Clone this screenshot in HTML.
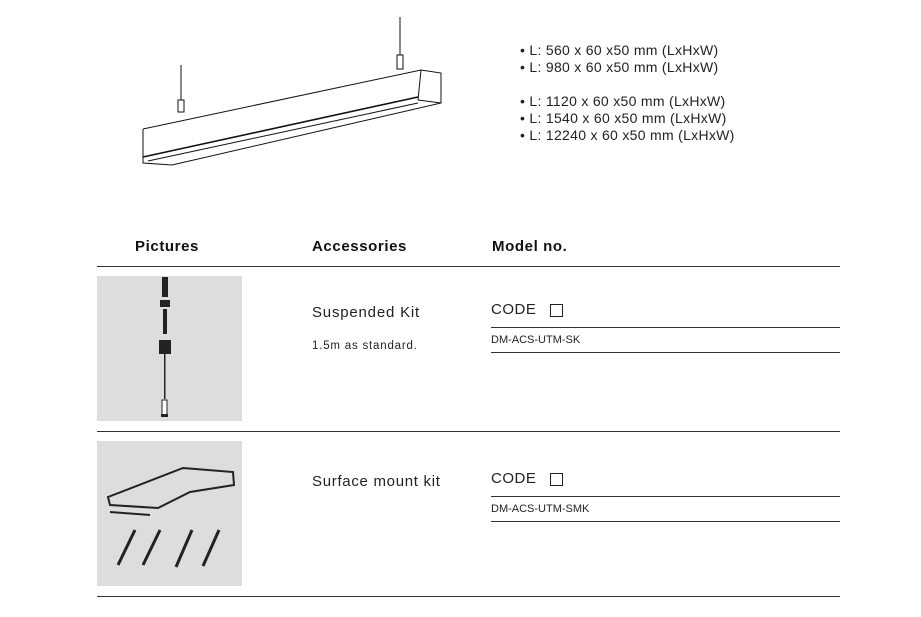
<html><head><style>
body{margin:0;width:921px;height:617px;background:#fff;position:relative;font-family:"Liberation Sans",sans-serif;overflow:hidden}
.a{position:absolute;white-space:nowrap}
.h{font-size:15px;font-weight:bold;letter-spacing:0.6px;color:#111}
.ln{position:absolute;height:1px;background:#333}
.g{position:absolute;background:#dcdddd}
.sp{font-size:11px;color:#222;line-height:17px}
</style></head><body>
<div class="g" style="left:97px;top:276px;width:145px;height:145px"></div>
<div class="g" style="left:97px;top:441px;width:145px;height:145px"></div>
<svg class="a" style="left:0;top:0" width="921" height="617">
<g stroke="#111" fill="none" stroke-width="1">
<line x1="181" y1="65" x2="181" y2="100"/><rect x="178" y="100" width="6" height="12"/>
<line x1="400" y1="17" x2="400" y2="55"/><rect x="397" y="55" width="6" height="14"/>
<polyline points="143,129 421,70 441,73 441,103 172,165 143,163 143,129"/>
<line x1="421" y1="70" x2="418" y2="100"/><line x1="143" y1="129" x2="143" y2="157"/>
<line x1="143" y1="157" x2="418" y2="97" stroke-width="1.6"/>
<line x1="148" y1="161" x2="418" y2="103"/>
<line x1="418" y1="100" x2="441" y2="103"/>
</g>
<g fill="#222">
<rect x="162" y="277" width="6" height="20"/><rect x="160" y="300" width="10" height="7"/>
<rect x="163" y="309" width="4" height="25"/><rect x="159" y="340" width="12" height="14"/>
<rect x="164" y="354" width="1.5" height="45"/><rect x="162" y="400" width="5" height="15" fill="#fff" stroke="#222"/>
<rect x="161" y="414" width="7" height="3"/>
</g>
<g stroke="#222" fill="none" stroke-width="2">
<path d="M108,497 L183,468 L233,472 L234,485 L190,492 L158,508 L110,505 Z"/>
<path d="M110,512 L150,515"/>
</g>
<g stroke="#222" fill="none" stroke-width="3">
<line x1="118" y1="565" x2="135" y2="530"/><line x1="143" y1="565" x2="160" y2="530"/>
<line x1="176" y1="567" x2="192" y2="530"/><line x1="203" y1="566" x2="219" y2="530"/>
</g>
</svg>
<div class="a" style="left:520px;top:42px;font-size:14px;letter-spacing:0.3px;line-height:17px;color:#222">• L: 560 x 60 x50 mm (LxHxW)<br>• L: 980 x 60 x50 mm (LxHxW)<br><br>• L: 1120 x 60 x50 mm (LxHxW)<br>• L: 1540 x 60 x50 mm (LxHxW)<br>• L: 12240 x 60 x50 mm (LxHxW)</div>
<div class="a h" style="left:135px;top:238px">Pictures</div>
<div class="a h" style="left:312px;top:238px">Accessories</div>
<div class="a h" style="left:492px;top:238px">Model no.</div>
<div class="ln" style="left:97px;top:266px;width:743px"></div>
<div class="ln" style="left:97px;top:431px;width:743px"></div>
<div class="ln" style="left:97px;top:596px;width:743px"></div>
<div class="a" style="left:312px;top:304px;font-size:15px;letter-spacing:0.8px;color:#222">Suspended Kit</div>
<div class="a" style="left:312px;top:340px;font-size:11.5px;letter-spacing:0.8px;color:#222">1.5m as standard.</div>
<div class="a" style="left:312px;top:473px;font-size:15px;letter-spacing:0.7px;color:#222">Surface mount kit</div>
<div class="a" style="left:491px;top:301px;font-size:15px;letter-spacing:0.5px;color:#222">CODE</div>
<div class="a" style="left:550px;top:304px;width:11px;height:11px;border:1px solid #222"></div>
<div class="ln" style="left:491px;top:327px;width:349px"></div>
<div class="a sp" style="left:491px;top:332px">DM-ACS-UTM-SK</div>
<div class="ln" style="left:491px;top:352px;width:349px"></div>
<div class="a" style="left:491px;top:470px;font-size:15px;letter-spacing:0.5px;color:#222">CODE</div>
<div class="a" style="left:550px;top:473px;width:11px;height:11px;border:1px solid #222"></div>
<div class="ln" style="left:491px;top:496px;width:349px"></div>
<div class="a sp" style="left:491px;top:501px">DM-ACS-UTM-SMK</div>
<div class="ln" style="left:491px;top:521px;width:349px"></div>
</body></html>
